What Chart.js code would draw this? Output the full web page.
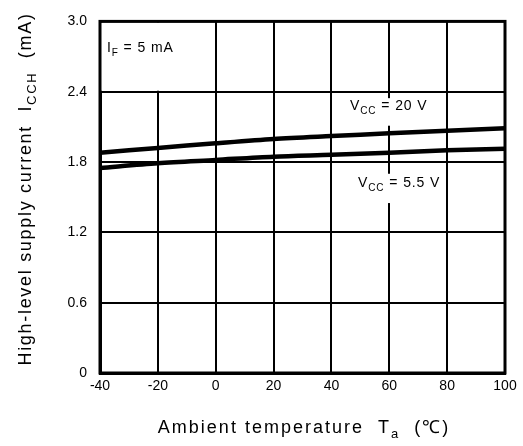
<!DOCTYPE html>
<html>
<head>
<meta charset="utf-8">
<script src="https://cdn.jsdelivr.net/npm/chart.js@4.4.1/dist/chart.umd.min.js"></script>
<style>
  html, body { margin:0; padding:0; background:#fff; }
  #wrap { width:523px; height:446px; position:relative; }
</style>
</head>
<body>
<div id="wrap"><canvas id="iccChart" width="523" height="446"></canvas></div>
<script>
// temperature points (°C) and supply current (mA)
const temps   = [-40, -20, 0, 20, 40, 60, 80, 100];
const icc20V  = [1.88, 1.92, 1.96, 1.997, 2.022, 2.045, 2.066, 2.088];
const icc5V5  = [1.75, 1.79, 1.818, 1.846, 1.862, 1.88, 1.90, 1.914];
const xTicks  = [-40, -20, 0, 20, 40, 60, 80, 100];
const yTicks  = [0, 0.6, 1.2, 1.8, 2.4, 3.0];
const yLabels = ['0', '0.6', '1.2', '1.8', '2.4', '3.0'];

const FONT = '"Liberation Sans", Arial, sans-serif';

// text with subscript pieces: parts = [[text, isSub], ...]
function richWidth(ctx, parts, size) {
  let w = 0;
  parts.forEach(([t, sub]) => {
    ctx.font = (sub ? Math.round(size * 0.72) : size) + 'px ' + FONT;
    w += ctx.measureText(t).width;
  });
  return w;
}
function drawRich(ctx, parts, x, y, size) {
  let cx = x;
  parts.forEach(([t, sub]) => {
    ctx.font = (sub ? Math.round(size * 0.72) : size) + 'px ' + FONT;
    ctx.fillText(t, cx, sub ? y + size * 0.3 : y);
    cx += ctx.measureText(t).width;
  });
}

const decor = {
  id: 'decor',
  beforeDatasetsDraw(chart) {
    const {ctx, chartArea: a, scales: {x, y}} = chart;
    ctx.save();
    ctx.fillStyle = '#fff';
    // inset box in the top-left cell, grid hidden
    ctx.fillRect(a.left + 1, a.top + 1, x.getPixelForValue(0) - 1 - a.left - 1, y.getPixelForValue(2.4) - 1 - a.top - 1);
    // label gaps on the 60 °C line
    ctx.fillRect(x.getPixelForValue(60) - 6, y.getPixelForValue(2.345), 12, y.getPixelForValue(2.11) - y.getPixelForValue(2.345));
    ctx.fillRect(x.getPixelForValue(60) - 6, y.getPixelForValue(1.70), 12, y.getPixelForValue(1.45) - y.getPixelForValue(1.70));

    // outer frame
    ctx.strokeStyle = '#000';
    ctx.lineWidth = 3;
    ctx.strokeRect(a.left, a.top, a.right - a.left, a.bottom - a.top);

    ctx.fillStyle = '#000';
    ctx.textBaseline = 'alphabetic';
    ctx.textAlign = 'left';
    ctx.letterSpacing = '0.9px';
    drawRich(ctx, [['I', false], ['F', true], [' = 5 mA', false]], a.left + 7, 52, 14);

    const l1 = [['V', false], ['CC', true], [' = 20 V', false]];
    const l2 = [['V', false], ['CC', true], [' = 5.5 V', false]];
    drawRich(ctx, l1, 350, 110, 14);
    drawRich(ctx, l2, 358, 187, 14);

    // axis titles
    ctx.letterSpacing = '2px';
    const xt = [['Ambient temperature  T', false], ['a', true], ['  (℃)', false]];
    const xw = richWidth(ctx, xt, 18);
    drawRich(ctx, xt, 304 - xw / 2, 433, 18);

    ctx.letterSpacing = '1.7px';
    const yt = [['High-level supply current  I', false], ['CCH', true], ['  (mA)', false]];
    const yw = richWidth(ctx, yt, 18);
    ctx.translate(31, 189);
    ctx.rotate(-Math.PI / 2);
    drawRich(ctx, yt, -yw / 2, 0, 18);
    ctx.restore();
  }
};

new Chart(document.getElementById('iccChart').getContext('2d'), {
  type: 'line',
  data: {
    datasets: [
      { label: 'VCC = 20 V', data: temps.map((t, i) => ({x: t, y: icc20V[i]})) },
      { label: 'VCC = 5.5 V', data: temps.map((t, i) => ({x: t, y: icc5V5[i]})) }
    ]
  },
  options: {
    responsive: false,
    animation: false,
    layout: { padding: { left: 0, top: 10, right: 18, bottom: 0 } },
    elements: {
      line: { borderColor: '#000', borderWidth: 4.5, tension: 0.3 },
      point: { radius: 0 }
    },
    plugins: { legend: { display: false }, tooltip: { enabled: false } },
    scales: {
      x: {
        type: 'linear', min: -40, max: 100,
        afterBuildTicks: s => { s.ticks = xTicks.map(v => ({value: v})); },
        afterFit: s => { s.height = 73; },
        grid: { color: '#000', lineWidth: 2, drawTicks: false },
        border: { color: '#000', width: 3 },
        ticks: { color: '#000', padding: 5, font: { family: FONT, size: 14 } }
      },
      y: {
        min: 0, max: 3.0,
        afterBuildTicks: s => { s.ticks = yTicks.map(v => ({value: v})); },
        afterFit: s => { s.width = 100; },
        grid: { color: '#000', lineWidth: 2, drawTicks: false },
        border: { color: '#000', width: 3 },
        ticks: {
          color: '#000', padding: 13, font: { family: FONT, size: 14 },
          callback: v => yLabels[yTicks.indexOf(v)]
        }
      }
    }
  },
  plugins: [decor]
});
</script>
</body>
</html>
